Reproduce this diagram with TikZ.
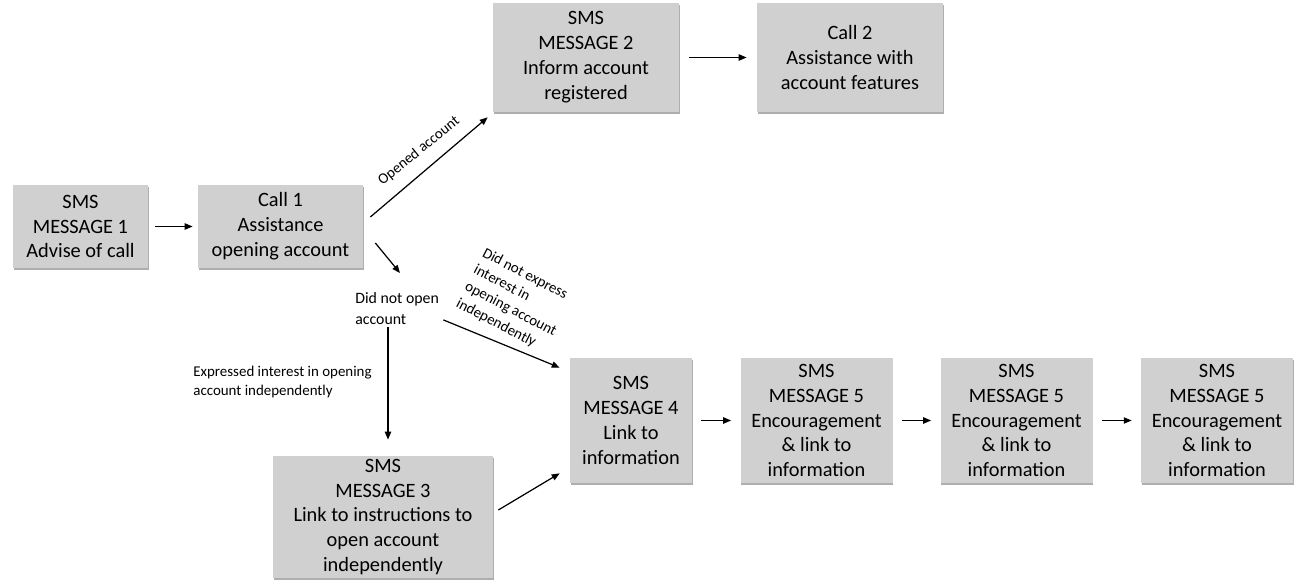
\documentclass[tikz,border=0pt]{standalone}
\usepackage{fontspec}
\setmainfont{Carlito}
\usetikzlibrary{arrows.meta,shadows}
\definecolor{boxgray}{RGB}{208,208,208}

\begin{document}
\begin{tikzpicture}[%
        box/.style = {fill=boxgray, inner sep=0pt, align=center,
            font=\fontsize{11.6}{14.2}\selectfont,
            drop shadow={shadow xshift=0.5pt, shadow yshift=-1.2pt,
                opacity=0.45, fill=black!70}},
        lbl/.style = {inner sep=0pt, align=left, font=\fontsize{9}{12}\selectfont},
        smalllbl/.style = {inner sep=0pt, align=left, font=\fontsize{8.5}{10.8}\selectfont},
        arr/.style = {-{Triangle[length=4.5pt,width=3.6pt]}, line width=0.7pt},
        harr/.style = {arr, shorten <=0.18cm, shorten >=0.18cm}
    ]
      \useasboundingbox (0,0) rectangle (25.94,-11.64);
      \node[box, minimum width=2.7cm, minimum height=1.66cm] (sms1) at (1.61,-4.53) {SMS\\MESSAGE 1\\Advise of call};
      \node[box, minimum width=3.3cm, minimum height=1.66cm] (call1) at (5.61,-4.53) {Call 1\\Assistance\\opening account};
      \node[box, minimum width=3.72cm, minimum height=2.18cm] (sms2) at (11.72,-1.15) {SMS\\MESSAGE 2\\Inform account\\registered};
      \node[box, minimum width=3.72cm, minimum height=2.18cm] (call2) at (17.0,-1.15) {Call 2\\Assistance with\\account features};
      \node[box, minimum width=4.4cm, minimum height=2.44cm] (sms3) at (7.66,-10.34) {SMS\\MESSAGE 3\\Link to instructions to\\open account\\independently};
      \node[box, minimum width=2.44cm, minimum height=2.5cm] (sms4) at (12.62,-8.41) {SMS\\MESSAGE 4\\Link to\\information};
      \node[box, minimum width=3.04cm, minimum height=2.5cm] (msg5a) at (16.33,-8.41) {SMS\\MESSAGE 5\\Encouragement\\\& link to\\information};
      \node[box, minimum width=3.04cm, minimum height=2.5cm] (msg5b) at (20.33,-8.41) {SMS\\MESSAGE 5\\Encouragement\\\& link to\\information};
      \node[box, minimum width=3.04cm, minimum height=2.5cm] (msg5c) at (24.34,-8.41) {SMS\\MESSAGE 5\\Encouragement\\\& link to\\information};
      \node[lbl, anchor=north west] (nopen) at (7.1,-5.84) {Did not open\\account};
      \node[smalllbl, anchor=west] (expr) at (3.86,-7.64) {Expressed interest in opening\\account independently};
      \node[smalllbl, rotate=39] (opened) at (8.38,-3.02) {Opened account};
      \node[smalllbl, rotate=-27.5] (noexpr) at (10.3,-6.02) {Did not express\\interest in\\opening account\\independently};
      \coordinate (vtop) at ([shift={(0.66,-0.04)}]nopen.south west);
      \draw[harr, shorten <=0.14cm, shorten >=0.1cm] (sms1) -- (call1);
      \draw[harr, shorten <=0.2cm, shorten >=0.2cm] (sms2) -- (call2);
      \draw[harr] (sms4) -- (msg5a);
      \draw[harr] (msg5a) -- (msg5b);
      \draw[harr] (msg5b) -- (msg5c);
      \draw[arr] ([shift={(0.14,0.19)}]call1.east) -- ([shift={(-0.1,-0.1)}]sms2.south west);
      \draw[arr] ([shift={(0.24,-0.33)}]call1.east) -- ([shift={(0.9,0.38)}]nopen.north west);
      \draw[arr] ([shift={(0.08,0.1)}]nopen.south east) -- ([shift={(-0.2,-0.2)}]sms4.north west);
      \draw[arr, shorten >=0.32cm] (vtop) -- (vtop |- sms3.north);
      \draw[arr] ([shift={(0.1,0.14)}]sms3.east) -- ([shift={(-0.2,0.2)}]sms4.south west);
    \end{tikzpicture}
\end{document}
